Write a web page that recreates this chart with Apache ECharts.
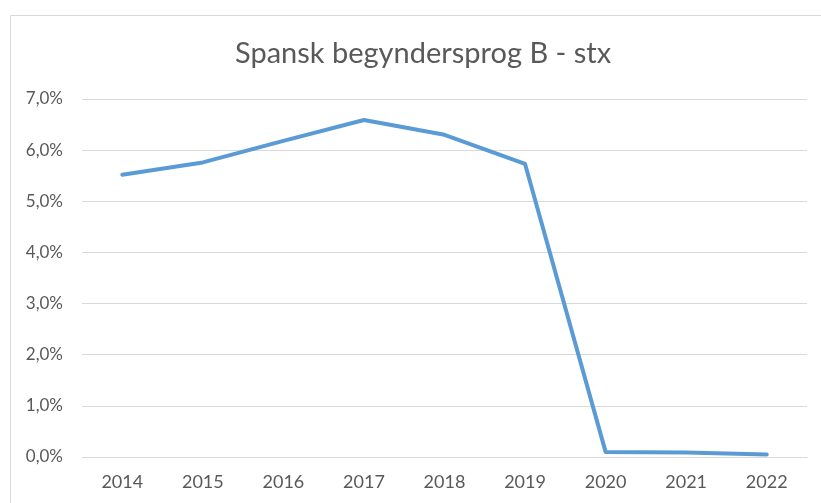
<!DOCTYPE html>
<html lang="da">

<head>
    <meta charset="UTF-8">
    <title>Spansk begyndersprog B - stx</title>
    <script src="https://cdn.jsdelivr.net/npm/echarts/dist/echarts.min.js"></script>
    <style>
        html, body { margin: 0; padding: 0; background: #fff; }
    </style>
</head>

<body>
    <div id="chart" style="width: 821px; height: 503px;"></div>
    <script>
        // years on the x axis
        const years = ['2014', '2015', '2016', '2017', '2018', '2019', '2020', '2021', '2022'];
        // share in percent
        const shares = [5.52, 5.76, 6.18, 6.59, 6.30, 5.73, 0.10, 0.09, 0.05];

        const textColor = '#595959';
        const font = 'Lato';

        const chart = echarts.init(document.getElementById('chart'));

        const options = {
            backgroundColor: '#fff',
            animation: false,
            title: {
                text: 'Spansk begyndersprog B - stx',
                left: 230,
                top: 34,
                textStyle: { fontFamily: font, fontSize: 29, fontWeight: 'normal', color: textColor }
            },
            // the thin frame round the chart
            graphic: [{
                type: 'rect',
                shape: { x: 10.5, y: 15.5, width: 840, height: 520 },
                style: { fill: 'none', stroke: '#d9d9d9', lineWidth: 1 },
                silent: true
            }],
            grid: { left: 82, right: 14, top: 99, bottom: 46, containLabel: false },
            xAxis: {
                type: 'category',
                data: years,
                boundaryGap: true,
                axisLine: { lineStyle: { color: '#d9d9d9', width: 1 } },
                axisTick: { show: false },
                axisLabel: { color: textColor, fontFamily: font, fontSize: 18, margin: 16 }
            },
            yAxis: {
                type: 'value',
                min: 0,
                max: 7,
                interval: 1,
                axisLine: { show: false },
                axisTick: { show: false },
                splitLine: { lineStyle: { color: '#d9d9d9', width: 1 } },
                axisLabel: {
                    color: textColor, fontFamily: font, fontSize: 17, margin: 19,
                    formatter: v => v.toFixed(1).replace('.', ',') + '%'
                }
            },
            series: [{
                type: 'line',
                data: shares,
                symbol: 'none',
                lineStyle: { color: '#5b9bd5', width: 4, cap: 'round', join: 'round' }
            }]
        };

        chart.setOption(options);
    </script>
</body>

</html>
